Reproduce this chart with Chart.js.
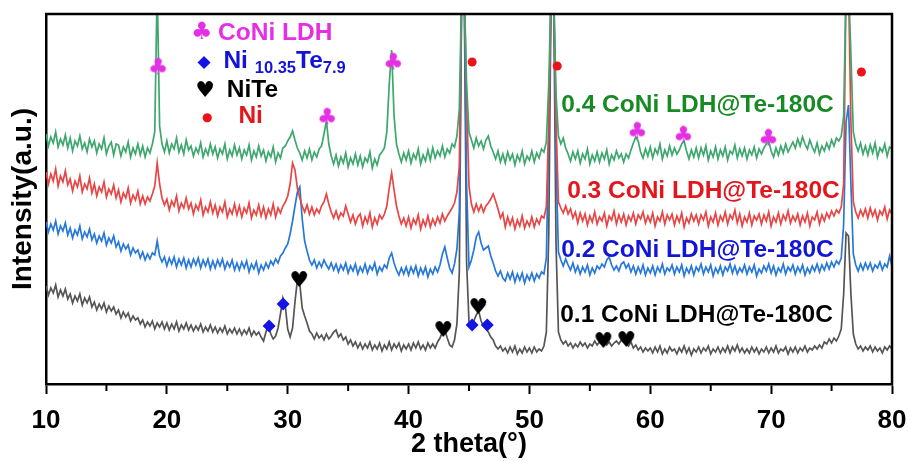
<!DOCTYPE html>
<html><head><meta charset="utf-8">
<script src="https://cdn.jsdelivr.net/npm/chart.js@4.4.0/dist/chart.umd.min.js"></script>
<style>html,body{margin:0;padding:0;background:#fff;}#wrap{width:910px;height:461px;position:relative;}</style>
</head><body><div id="wrap"><canvas id="c" width="910" height="461"></canvas></div>
<script>
// 2-theta grid (degrees): 10 to 80, step 0.2
const twoThetaStart = 10, twoThetaStep = 0.2, twoThetaCount = 351;
const twoTheta = Array.from({length: twoThetaCount}, (_, i) => +(twoThetaStart + twoThetaStep * i).toFixed(1));

const seriesNames = ['0.4 CoNi LDH@Te-180C', '0.3 CoNi LDH@Te-180C', '0.2 CoNi LDH@Te-180C', '0.1 CoNi LDH@Te-180C'];

const green04 = [
250,238,247,241,252,237,245,239,249,236,
246,233,243,238,248,235,241,232,245,237,
243,231,240,235,246,230,238,242,229,240,
239,228,237,232,242,227,236,230,240,229,
238,227,236,231,240,252,400,258,240,232,
243,231,240,235,246,232,239,230,244,234,
238,228,236,231,241,227,235,229,240,230,
237,226,235,230,240,225,234,228,239,229,
236,225,234,229,239,224,233,227,238,228,
234,223,232,227,237,222,231,226,236,238,
243,247,253,244,236,231,224,233,226,235,
224,232,227,235,238,250,263,240,228,220,
229,218,227,221,231,217,226,220,230,219,
228,217,226,222,232,216,225,219,229,232,
236,252,300,334,268,240,230,222,231,224,
233,221,230,225,235,220,229,223,234,224,
236,226,233,228,238,227,235,231,240,237,
248,275,400,400,300,252,244,236,246,238,
243,235,244,248,238,232,225,233,222,230,
221,232,224,230,219,229,223,233,220,228,
224,233,222,231,226,235,232,242,300,400,
400,290,248,240,246,236,230,223,232,225,
233,221,230,225,235,220,229,223,232,222,
231,225,234,220,229,224,233,226,230,222,
230,226,234,241,247,243,232,226,235,228,
237,226,235,230,240,225,234,228,238,229,
236,230,234,240,243,233,225,234,227,236,
226,236,229,238,224,233,227,237,225,234,
228,237,224,233,230,239,226,235,228,236,
225,234,229,237,226,235,230,236,240,243,
233,227,236,229,238,231,240,232,237,242,
236,245,238,247,240,235,244,237,232,241,
230,238,233,241,235,244,238,246,243,248,
268,400,400,330,252,240,233,241,230,238,
229,239,231,241,227,236,232,240,228,237,
235];

const red03 = [
212,200,210,203,215,198,208,202,213,199,
205,193,203,197,208,192,200,195,206,191,
200,188,197,192,202,187,195,190,199,186,
194,182,191,186,196,181,189,184,193,180,
188,180,187,183,190,198,221,200,186,179,
185,174,183,178,188,173,181,176,186,175,
181,170,179,174,184,169,177,172,182,171,
179,168,177,172,182,167,175,170,180,169,
178,167,176,171,181,166,174,169,179,168,
177,166,175,169,180,167,176,171,178,182,
188,200,221,214,196,186,178,172,179,170,
177,169,175,171,178,182,190,180,172,166,
173,165,171,168,178,170,162,169,160,167,
170,158,167,161,171,157,166,160,169,165,
170,178,196,211,194,178,168,160,166,158,
167,156,165,160,169,155,164,158,168,157,
165,159,167,161,170,163,168,172,176,181,
192,218,400,400,285,198,180,172,180,173,
179,172,178,181,185,190,183,175,166,171,
157,167,159,166,155,164,158,168,156,163,
158,167,157,165,160,168,166,177,260,400,
400,262,182,176,171,178,170,175,166,172,
161,171,163,170,159,168,162,172,160,167,
163,171,158,168,164,173,160,169,162,170,
159,168,163,171,160,169,165,172,161,168,
162,171,158,167,163,172,160,169,164,170,
159,168,162,171,157,166,161,170,163,169,
160,169,164,172,158,167,162,171,159,168,
163,172,160,169,165,174,161,170,158,167,
162,171,159,168,164,170,160,169,163,172,
158,167,162,171,160,169,164,173,161,168,
163,170,159,168,162,171,158,167,164,172,
160,169,163,171,166,173,168,174,171,177,
200,400,400,262,182,172,166,174,168,175,
166,176,168,174,164,173,169,177,165,174,
170];

const blue02 = [
162,152,160,154,163,150,158,153,161,149,
156,146,154,149,158,145,152,147,155,144,
150,141,148,143,151,139,146,141,148,137,
142,133,140,135,139,129,136,131,134,126,
132,124,130,125,131,129,143,128,122,127,
118,126,120,127,117,125,119,126,116,124,
117,125,119,126,116,124,118,125,115,123,
116,124,118,125,115,122,117,124,114,121,
114,122,116,123,112,120,115,122,111,119,
114,121,116,123,119,125,121,128,131,136,
140,150,163,178,192,197,165,143,133,124,
119,124,116,122,117,124,119,115,121,114,
120,112,119,114,121,111,118,113,120,110,
117,112,120,111,118,114,121,110,117,113,
119,116,126,131,121,114,109,116,110,117,
109,117,111,118,108,116,110,117,107,115,
110,117,112,119,130,137,126,116,111,120,
135,172,400,400,200,117,124,134,147,152,
141,134,136,138,128,121,113,108,113,106,
103,111,105,112,102,110,104,111,101,109,
104,111,103,110,106,112,110,126,250,400,
400,222,132,124,118,125,119,114,121,112,
118,110,117,112,119,109,116,111,118,115,
120,117,124,127,119,114,118,113,120,122,
116,120,112,118,110,117,111,119,109,116,
111,118,109,117,112,120,110,116,113,119,
110,117,112,119,108,116,111,118,109,117,
113,120,110,117,112,119,108,116,111,118,
109,117,113,120,111,118,110,116,112,119,
110,117,112,119,108,115,111,118,113,120,
111,118,109,116,112,120,110,117,113,119,
110,117,112,119,109,116,111,118,113,120,
112,119,114,121,115,122,117,123,120,126,
160,262,279,200,130,119,113,120,114,121,
115,121,113,119,116,122,114,120,117,128,
118];

const gray01 = [
98,89,96,91,99,87,94,88,95,85,
90,81,88,83,90,79,86,81,87,77,
82,74,80,75,81,72,78,73,77,70,
74,66,72,67,71,63,68,64,66,60,
64,57,62,58,63,55,61,57,62,55,
61,54,60,55,62,53,59,55,61,54,
59,53,58,54,60,52,57,53,59,52,
57,51,56,52,58,50,55,51,56,50,
55,49,54,50,56,48,53,49,52,47,
43,52,59,50,45,48,56,70,86,78,
55,47,56,82,104,100,76,68,61,53,
50,45,51,46,49,44,50,45,48,52,
54,47,50,44,47,40,44,38,42,36,
41,35,40,36,42,34,39,35,41,33,
39,35,42,34,40,36,41,33,39,35,
40,34,41,36,42,35,39,34,41,36,
40,36,42,46,52,54,46,39,37,44,
60,112,400,400,122,62,58,63,69,73,
63,58,55,52,47,44,38,35,38,33,
36,31,37,32,38,30,35,31,37,32,
36,31,37,32,35,33,38,52,150,400,
400,140,52,44,40,43,38,41,36,40,
37,42,38,41,36,40,38,43,39,42,
40,44,39,42,38,41,43,40,44,42,
41,38,42,36,39,34,37,32,36,33,
36,31,37,32,38,30,35,31,37,33,
35,30,36,32,38,31,36,29,35,32,
37,31,36,33,38,30,35,32,37,31,
36,32,38,31,37,33,39,32,36,31,
35,31,37,32,36,30,35,32,37,31,
36,32,38,31,35,33,37,30,36,32,
37,31,36,33,38,32,36,34,38,35,
39,36,42,40,45,41,46,43,48,55,
90,151,148,90,50,40,35,38,33,37,
34,38,32,37,33,36,31,37,34,38,
35];

// phase markers (2theta, intensity)
const clubTheta = [19.27, 33.26, 38.73, 58.92, 62.73, 69.77];
const clubInt   = [316, 266, 321, 252, 248, 245];
const diamondTheta = [28.46, 29.62, 45.26, 46.51];
const diamondInt   = [58, 80, 59, 59];
const heartTheta = [30.94, 42.86, 45.76, 56.11, 58.01];
const heartInt   = [104, 54, 77, 43, 44];
const dotTheta = [45.26, 52.30, 77.47];
const dotInt   = [322, 318, 312];

const xTicks = [10, 20, 30, 40, 50, 60, 70, 80];
const xMinorTicks = [15, 25, 35, 45, 55, 65, 75];

// ---------- styling ----------
const FONT = '"Liberation Sans", Arial, sans-serif';
const lineColors = ['#3da76d', '#e84545', '#2778d8', '#555555'];
const labelColors = ['#178a25', '#e3161c', '#1414d6', '#000000'];
const labelPos = [[52.63, 272], [53.12, 186], [52.63, 127], [52.55, 62]];

function glyph(ch, color, size) {
  const c = document.createElement('canvas');
  c.width = size + 4; c.height = size + 4;
  const g = c.getContext('2d');
  g.fillStyle = color; g.font = size + 'px "DejaVu Sans"';
  g.textAlign = 'center'; g.textBaseline = 'middle';
  g.fillText(ch, c.width / 2, c.height / 2 + 1);
  return c;
}
const clubImg = glyph('\u2663', '#e52fe5', 23);
const heartImg = glyph('\u2665', '#000000', 22);

const toXY = (xs, ys) => xs.map((x, i) => ({x, y: ys[i]}));

const lineDs = (label, arr, color) => ({
  label, data: toXY(twoTheta, arr), borderColor: color, borderWidth: 1.7,
  pointRadius: 0, tension: 0, fill: false
});
const markDs = (label, xs, ys, style, color, r) => ({
  label, data: toXY(xs, ys), showLine: false, pointStyle: style, pointRadius: r,
  pointBackgroundColor: color, pointBorderColor: color, pointBorderWidth: 0
});

const framePlugin = {
  id: 'frame',
  afterDraw(chart) {
    const {ctx, chartArea: a, scales: {x}} = chart;
    ctx.save();
    ctx.strokeStyle = '#000'; ctx.lineWidth = 2.5;
    ctx.beginPath();
    ctx.moveTo(a.left - 1, a.top); ctx.lineTo(a.right, a.top); ctx.lineTo(a.right, a.bottom + 1);
    ctx.stroke();
    ctx.lineWidth = 2;
    ctx.beginPath();
    xMinorTicks.forEach(v => { const px = x.getPixelForValue(v); ctx.moveTo(px, a.bottom); ctx.lineTo(px, a.bottom + 7); });
    ctx.stroke();
    ctx.restore();
  }
};

const annotPlugin = {
  id: 'annot',
  afterDatasetsDraw(chart) {
    const {ctx, scales: {x, y}} = chart;
    ctx.save();
    ctx.textAlign = 'left'; ctx.textBaseline = 'alphabetic';
    ctx.font = 'bold 24.5px ' + FONT;
    seriesNames.forEach((t, i) => {
      ctx.fillStyle = labelColors[i];
      ctx.fillText(t, x.getPixelForValue(labelPos[i][0]), y.getPixelForValue(labelPos[i][1]));
    });
    // legend
    const sym = (ch, color, size, tx, ty) => {
      ctx.save(); ctx.fillStyle = color; ctx.font = size + 'px "DejaVu Sans"';
      ctx.textAlign = 'center'; ctx.textBaseline = 'middle';
      ctx.fillText(ch, x.getPixelForValue(tx), y.getPixelForValue(ty)); ctx.restore();
    };
    sym('\u2663', '#e52fe5', 24, 22.89, 351);
    sym('\u25C6', '#1414e6', 17, 23.08, 321);
    sym('\u2665', '#000000', 22, 23.16, 293);
    sym('\u25CF', '#e8141a', 12, 23.35, 266);
    const parts = (list, tx, ty) => {
      let px = x.getPixelForValue(tx); const py = y.getPixelForValue(ty);
      list.forEach(([t, size, dy, color]) => {
        ctx.font = 'bold ' + size + 'px ' + FONT; ctx.fillStyle = color;
        ctx.fillText(t, px, py + dy); px += ctx.measureText(t).width;
      });
    };
    parts([['CoNi LDH', 24.5, 0, '#e52fe5']], 24.24, 344);
    parts([['Ni ', 24.5, 0, '#1414d6'], ['10.35', 16.5, 5, '#1414d6'], ['Te', 24.5, 0, '#1414d6'], ['7.9', 16.5, 5, '#1414d6']], 24.68, 316);
    parts([['NiTe', 24.5, 0, '#000000']], 24.96, 287);
    parts([['Ni', 24.5, 0, '#e3161c']], 25.92, 261);
    ctx.restore();
  }
};

new Chart(document.getElementById('c'), {
  type: 'line',
  data: {
    datasets: [
      markDs('CoNi LDH', clubTheta, clubInt, clubImg, '#e52fe5', 8),
      markDs('Ni10.35Te7.9', diamondTheta, diamondInt, 'rectRot', '#1414e6', 6.5),
      markDs('NiTe', heartTheta, heartInt, heartImg, '#000', 8),
      markDs('Ni', dotTheta, dotInt, 'circle', '#e8141a', 4.5),
      lineDs(seriesNames[0], green04, lineColors[0]),
      lineDs(seriesNames[1], red03, lineColors[1]),
      lineDs(seriesNames[2], blue02, lineColors[2]),
      lineDs(seriesNames[3], gray01, lineColors[3])
    ]
  },
  options: {
    responsive: false, animation: false, devicePixelRatio: 1,
    layout: {padding: {left: 0, top: 14, right: 18, bottom: 0}},
    plugins: {legend: {display: false}, tooltip: {enabled: false}},
    scales: {
      x: {
        type: 'linear', min: 10, max: 80,
        afterBuildTicks: s => { s.ticks = xTicks.map(v => ({value: v})); },
        afterFit: s => { s.height = 77; s.paddingLeft = 0; s.paddingRight = 0; },
        ticks: {color: '#000', font: {family: FONT, size: 26, weight: 'bold'}, padding: 11, maxRotation: 0, autoSkip: false},
        grid: {drawOnChartArea: false, tickLength: 10, tickWidth: 2, tickColor: '#000'},
        border: {color: '#000', width: 2.5},
        title: {display: true, text: '2 theta(°)', color: '#000', font: {family: FONT, size: 27, weight: 'bold'}, padding: {top: 0, bottom: 0}}
      },
      y: {
        min: 0, max: 370,
        afterFit: s => { s.width = 46; },
        ticks: {display: false},
        grid: {display: false, drawTicks: false},
        border: {color: '#000', width: 2.5},
        title: {display: true, text: 'Intensity(a.u.)', color: '#000', font: {family: FONT, size: 28, weight: 'bold'}, padding: {top: 6, bottom: 0}}
      }
    }
  },
  plugins: [framePlugin, annotPlugin]
});
</script></body></html>
